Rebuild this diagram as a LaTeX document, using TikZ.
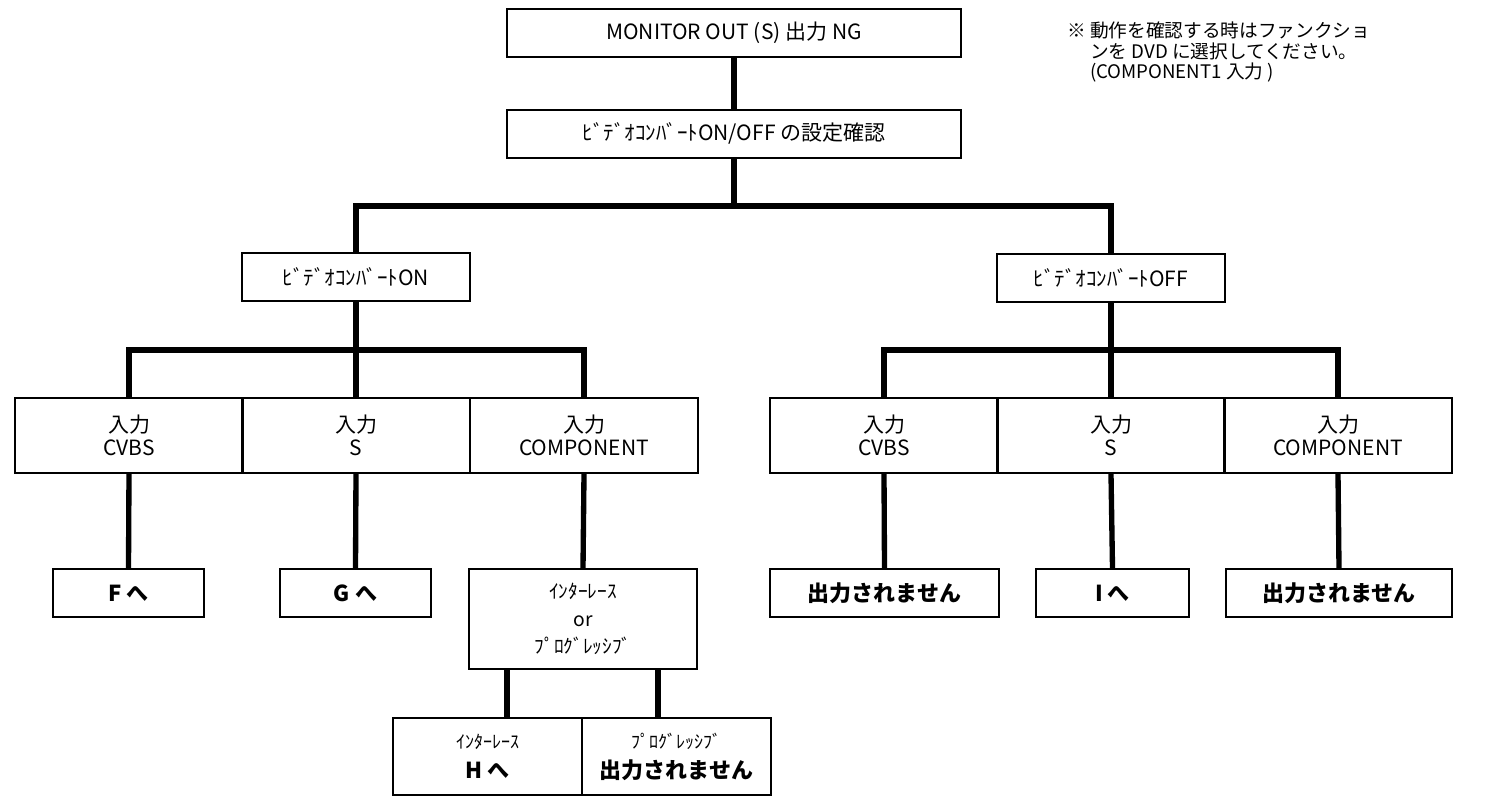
\documentclass[tikz,border=0pt]{standalone}
\usepackage{fontspec}
\setmainfont{Noto Sans CJK JP}
\usepackage{tikz}
\tikzset{
    box/.style={draw, line width=1.5pt, align=center, inner sep=0pt,
        font=\fontsize{15.75}{17.5}\selectfont},
    wbox/.style={box, minimum width=340.5pt, minimum height=36pt},
    mbox/.style={box, minimum width=170.5pt, minimum height=36pt},
    inbox/.style={box, minimum width=170.5pt, minimum height=56.25pt},
    goalbox/.style={box, minimum height=36pt, font=\fontsize{16.5}{19}\selectfont\bfseries},
    endbox/.style={box, minimum width=141.75pt, minimum height=57.75pt},
    bar/.style={line width=4pt, line join=miter},
}
\newcommand{\smalltxt}[1]{{\fontsize{13.5}{14}\selectfont #1}}
\newcommand{\boldtxt}[1]{{\fontsize{16.5}{19}\selectfont\bfseries #1}}

\begin{document}
\begin{tikzpicture}[x=0.75pt,y=-0.75pt]
    \useasboundingbox (0,0) rectangle (1485,801);

    % top
    \node[wbox] (ng) at (734,33) {MONITOR OUT (S) 出力 NG};
    \node[wbox] (conf) at (734,133.5) {ﾋﾞﾃﾞｵｺﾝﾊﾞｰﾄON/OFF の設定確認};
    \node[anchor=north west, inner sep=0pt, align=left,
        font=\fontsize{14}{15.25}\selectfont] (memo) at (1067,22)
        {※ 動作を確認する時はファンクショ\\
         \phantom{※ }ンを DVD に選択してください。\\
         \phantom{※ }(COMPONENT1 入力 )};

    % on / off
    \node[mbox] (on) at (356,277) {ﾋﾞﾃﾞｵｺﾝﾊﾞｰﾄON};
    \node[mbox] (off) at (1111,277.5) {ﾋﾞﾃﾞｵｺﾝﾊﾞｰﾄOFF};

    % inputs
    \node[inbox] (oncvbs) at (129,435.5) {入力\\CVBS};
    \node[inbox] (ons) at (356,435.5) {入力\\S};
    \node[inbox] (oncomp) at (584,435.5) {入力\\COMPONENT};
    \node[inbox] (offcvbs) at (884,435.5) {入力\\CVBS};
    \node[inbox] (offs) at (1111,435.5) {入力\\S};
    \node[inbox] (offcomp) at (1338,435.5) {入力\\COMPONENT};

    % results
    \node[goalbox, minimum width=113.5pt] (tof) at (128.5,593) {F へ};
    \node[goalbox, minimum width=113.5pt] (tog) at (355.5,593) {G へ};
    \node[box, minimum width=170.5pt, minimum height=75pt,
        font=\fontsize{14.5}{20.5}\selectfont] (scan) at (583,619)
        {ｲﾝﾀｰﾚｰｽ\\or\\ﾌﾟﾛｸﾞﾚｯｼﾌﾞ};
    \node[goalbox, minimum width=171.5pt] (nooff1) at (884.5,593) {出力されません};
    \node[goalbox, minimum width=114.5pt] (toi) at (1112.5,593) {I へ};
    \node[goalbox, minimum width=170pt] (nooff2) at (1339,593) {出力されません};

    \node[endbox] (toh) at (487.5,756.5) {\smalltxt{ｲﾝﾀｰﾚｰｽ}\\[5pt]\boldtxt{H へ}};
    \node[endbox] (noprog) at (676.5,756.5) {\smalltxt{ﾌﾟﾛｸﾞﾚｯｼﾌﾞ}\\[5pt]\boldtxt{出力されません}};

    % connectors
    \draw[bar] (ng.south) -- (conf.north);
    \draw[bar] (conf.south) -- (conf.south |- 0,206) coordinate (j1);
    \draw[bar] (on.north) |- (j1) -| (off.north);

    \draw[bar] (on.south) -- (on.south |- 0,350) coordinate (j2);
    \draw[bar] (oncvbs.north) |- (j2) -| (oncomp.north);
    \draw[bar] (j2) -- (ons.north);

    \draw[bar] (off.south) -- (off.south |- 0,350) coordinate (j3);
    \draw[bar] (offcvbs.north) |- (j3) -| (offcomp.north);
    \draw[bar] (j3) -- (offs.north);

    \draw[bar] (oncvbs.south) -- (tof.north);
    \draw[bar] (ons.south) -- (tog.north);
    \draw[bar] (oncomp.south) -- (scan.north);
    \draw[bar] (offcvbs.south) -- (nooff1.north);
    \draw[bar] (offs.south) -- (toi.north);
    \draw[bar] (offcomp.south) -- (nooff2.north);

    \draw[bar] ([xshift=-57pt]scan.south) -- ([xshift=-57pt]scan.south |- toh.north);
    \draw[bar] ([xshift=56.25pt]scan.south) -- ([xshift=56.25pt]scan.south |- noprog.north);
\end{tikzpicture}
\end{document}
